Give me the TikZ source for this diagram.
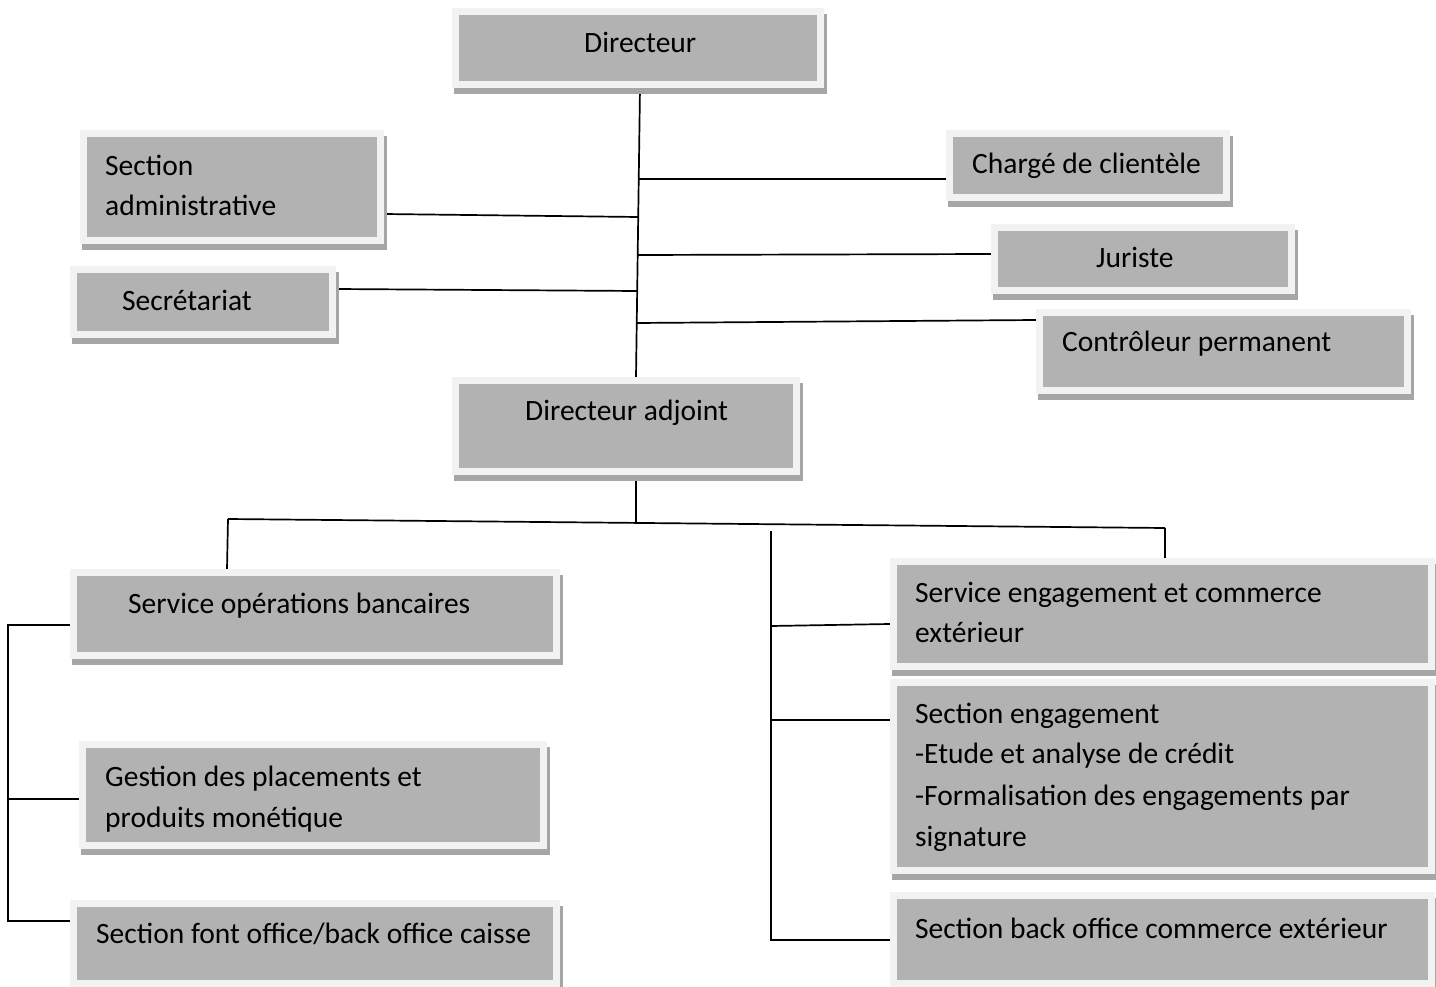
\documentclass[tikz,border=0pt]{standalone}
\usepackage{fontspec}
\setmainfont{Carlito}
\usetikzlibrary{backgrounds,calc}
\definecolor{boxgray}{HTML}{B2B2B2}
\definecolor{framegray}{HTML}{F2F2F2}
\definecolor{shadegray}{HTML}{A6A6A6}
% #1 name, (#2,#3) inner top-left, (#4,#5) inner bottom-right (pixel coords, y down)
\newcommand\orgbox[5]{%
  \fill[shadegray] (#2-5,#3-1) rectangle (#4+10,#5+13);
  \node[orgnode, minimum width={#4pt-#2pt+7pt}, minimum height={#5pt-#3pt+7pt}] (#1) at ({(#2+#4)/2},{(#3+#5)/2}) {};}
\begin{document}
\begin{tikzpicture}[x=1pt,y=-1pt,
  orgnode/.style={rectangle, fill=boxgray, draw=framegray, line width=7pt, inner sep=0pt},
  lbl/.style={anchor=base west, inner sep=0pt, font=\fontsize{29.5}{35}\selectfont, text=black},
  link/.style={line width=1.7pt, draw=black}]
\useasboundingbox (0,0) rectangle (1436,987);

% boxes
\orgbox{dir}{459}{15}{817}{81}
\orgbox{sadm}{87}{137}{377}{237}
\orgbox{secr}{77}{273}{329}{331}
\orgbox{charge}{953}{137}{1223}{194}
\orgbox{jur}{998}{231}{1288}{287}
\orgbox{ctrl}{1043}{316}{1404}{387}
\orgbox{dadj}{459}{384}{793}{468}
\orgbox{sob}{77}{576}{553}{652}
\orgbox{gest}{86}{748}{540}{842}
\orgbox{sfo}{77}{907}{553}{980}
\orgbox{seng}{897}{565}{1428}{663}
\orgbox{secteng}{897}{686}{1428}{867}
\orgbox{sbo}{897}{899}{1428}{980}

% texts
\node[lbl] (tdir) at (584,53) {Directeur};
\node[lbl] (tsadm1) at (105,176) {Section};
\node[lbl] (tsadm2) at (105,216) {administrative};
\node[lbl] (tsecr) at (122,311) {Secrétariat};
\node[lbl] (tcharge) at (972,174) {Chargé de clientèle};
\node[lbl] (tjur) at (1096,268) {Juriste};
\node[lbl] (tctrl) at (1062,352) {Contrôleur permanent};
\node[lbl] (tdadj) at (525,420) {Directeur adjoint};
\node[lbl] (tsob) at (128,613) {Service opérations bancaires};
\node[lbl] (tgest1) at (105,786) {Gestion des placements et};
\node[lbl] (tgest2) at (105,827) {produits monétique};
\node[lbl] (tsfo) at (96,943) {Section font office/back office caisse};
\node[lbl] (tseng1) at (915,602) {Service engagement et commerce};
\node[lbl] (tseng2) at (915,642) {extérieur};
\node[lbl] (tsec1) at (915,723) {Section engagement};
\node[lbl] (tsec2) at (915,763) {-Etude et analyse de crédit};
\node[lbl] (tsec3) at (915,805) {-Formalisation des engagements par};
\node[lbl] (tsec4) at (915,846) {signature};
\node[lbl] (tsbo) at (915,938) {Section back office commerce extérieur};

% junction coordinates
\coordinate (jch) at (639,179);
\coordinate (jsa) at (638,217);
\coordinate (jju) at (638,255);
\coordinate (jse) at (637,291);
\coordinate (jct) at (637,323);
\coordinate (busL) at (228,519);
\coordinate (busM) at (636,523);
\coordinate (busR) at (1165,528);
\coordinate (rtop) at (771,531);
\coordinate (rbot) at (771,940);
\coordinate (lb1) at (8,625);
\coordinate (lb2) at (8,799);
\coordinate (lb3) at (8,921);

\begin{scope}[on background layer]
\fill[white] (0,0) rectangle (1436,987);
% upper trunk
\draw[link] ([xshift=2pt]dir.south) -- ([xshift=10pt]dadj.north);
\draw[link] (jch) -- (jch -| charge.west);
\draw[link] (sadm.east |- 0,214) -- (jsa);
\draw[link] (jju) -- (jur.west |- 0,254);
\draw[link] (secr.east |- 0,289) -- (jse);
\draw[link] (jct) -- (ctrl.west |- 0,320);
% lower tree
\draw[link] ([xshift=10pt]dadj.south) -- (busM);
\draw[link] (busL) -- (busR);
\draw[link] (busL) -- (sob.north -| 227,0);
\draw[link] (busR) -- (seng.north -| busR);
\draw[link] (rtop) -- (rbot) -- (rbot -| sbo.west);
\draw[link] (771,626) -- (seng.west |- 0,624);
\draw[link] (771,720) -- (secteng.west |- 0,720);
% left bracket
\draw[link] (lb1 -| sob.west) -- (lb1) -- (lb3) -- (lb3 -| sfo.west);
\draw[link] (lb2) -- (lb2 -| gest.west);
\end{scope}
\end{tikzpicture}
\end{document}
